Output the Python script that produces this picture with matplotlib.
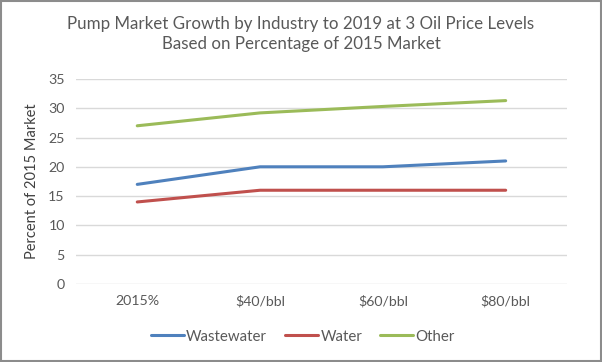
import matplotlib.pyplot as plt
from matplotlib.patches import Rectangle

categories = ['2015%', '$40/bbl', '$60/bbl', '$80/bbl']
wastewater = [17, 20, 20, 21]
water = [14, 16, 16, 16]
other = [27, 29.2, 30.3, 31.3]

plt.rcParams['font.family'] = ['Lato', 'DejaVu Sans']

fig = plt.figure(figsize=(6.02, 3.62), dpi=100)
ax = fig.add_axes([0.126, 0.2155, 0.816, 0.5665])

x = range(len(categories))
ax.plot(x, wastewater, color='#4F81BD', lw=2.2, label='Wastewater', solid_capstyle='round')
ax.plot(x, water, color='#C0504D', lw=2.2, label='Water', solid_capstyle='round')
ax.plot(x, other, color='#9BBB59', lw=2.2, label='Other', solid_capstyle='round')

ax.set_xlim(-0.5, 3.5)
ax.set_ylim(0, 35)
ax.set_yticks(range(0, 36, 5))
ax.set_xticks(list(x))
ax.set_xticklabels(categories)
ax.grid(axis='y', color='#D9D9D9', lw=1)
ax.set_axisbelow(True)
for s in ax.spines.values():
    s.set_visible(False)
ax.tick_params(length=0, labelsize=10.2, colors='#595959', pad=8)
ax.set_ylabel('Percent of 2015 Market', fontsize=10.5, color='#404040', labelpad=7)

fig.suptitle('Pump Market Growth by Industry to 2019 at 3 Oil Price Levels\nBased on Percentage of 2015 Market',
             y=0.955, fontsize=12.2, color='#595959', linespacing=1.3)

fig.legend(loc='center', bbox_to_anchor=(0.503, 0.07), ncol=3, frameon=False,
           fontsize=10.8, labelcolor='#595959', handlelength=2.2, handletextpad=0.15,
           columnspacing=1.2)

fig.patches.append(Rectangle((0.002, 0.003), 0.996, 0.994, transform=fig.transFigure,
                             fill=False, edgecolor='#8C8C8C', lw=1.5))

fig.savefig('out.png', dpi=100)
